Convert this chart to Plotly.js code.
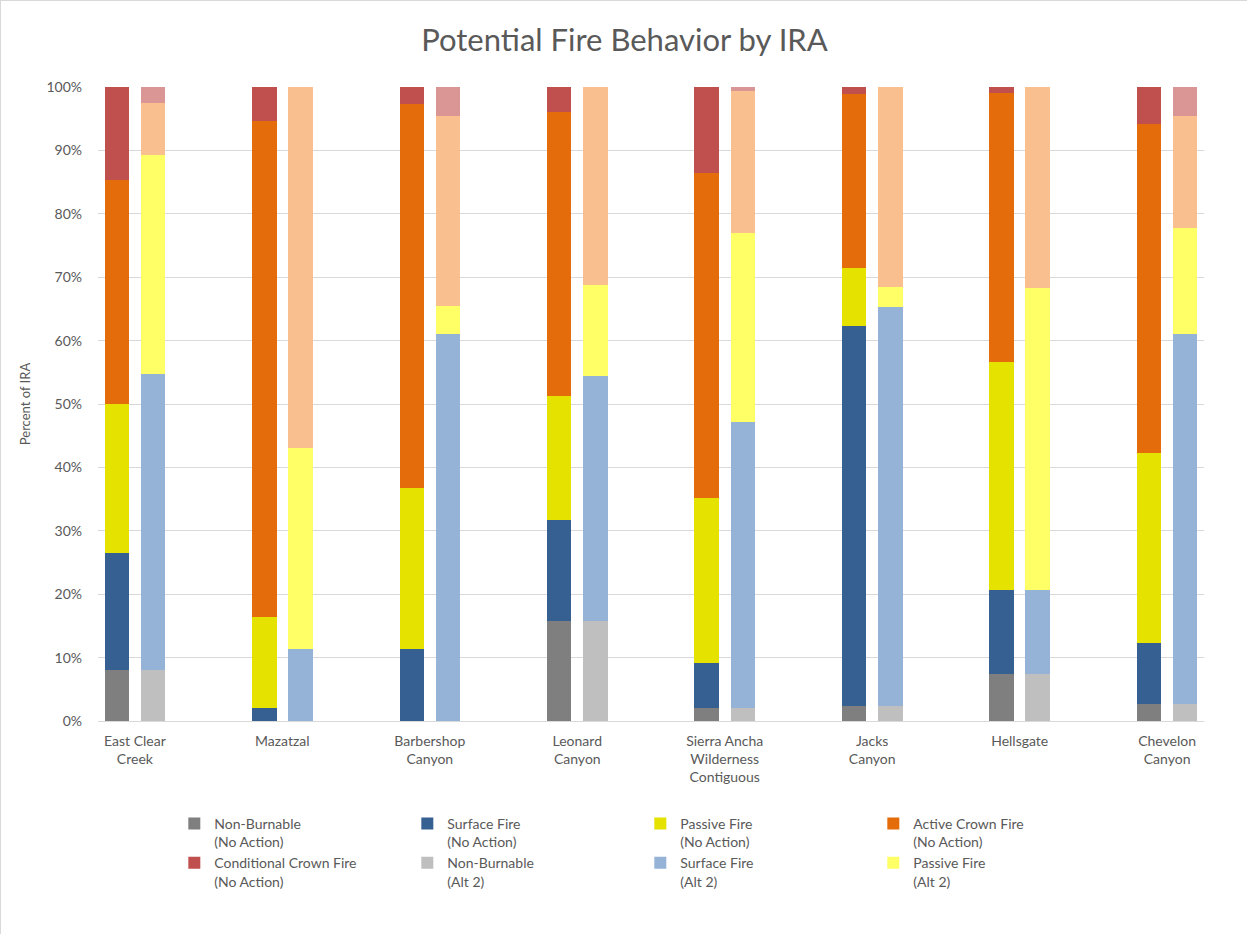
<!DOCTYPE html>
<html>
<head>
<meta charset="utf-8">
<script src="https://cdn.plot.ly/plotly-3.0.1.min.js"></script>
<style>
  html, body { margin: 0; padding: 0; background: #ffffff; }
  #chart { width: 1247px; height: 934px; box-sizing: border-box; border: 1px solid #d9d9d9; }
</style>
</head>
<body>
<div id="chart"></div>
<script>
// ---- Data (percent of IRA) ----
const categories = ["East Clear<br>Creek", "Mazatzal", "Barbershop<br>Canyon", "Leonard<br>Canyon",
  "Sierra Ancha<br>Wilderness<br>Contiguous", "Jacks<br>Canyon", "Hellsgate", "Chevelon<br>Canyon"];

// No Action
const naNonBurnable   = [8.1, 0.0, 0.0, 15.7, 2.0, 2.3, 7.4, 2.7];
const naSurface       = [18.4, 2.0, 11.3, 16.0, 7.2, 60.0, 13.2, 9.6];
const naPassive       = [23.5, 14.4, 25.4, 19.5, 25.9, 9.2, 36.1, 30.0];
const naActive        = [35.3, 78.2, 60.6, 44.9, 51.3, 27.4, 42.4, 51.8];
const naConditional   = [14.7, 5.4, 2.7, 3.9, 13.6, 1.1, 0.9, 5.9];

// Alt 2
const altNonBurnable  = [8.1, 0.0, 0.0, 15.7, 2.0, 2.3, 7.4, 2.7];
const altSurface      = [46.7, 11.3, 61.1, 38.7, 45.2, 63.0, 13.2, 58.4];
const altPassive      = [34.4, 31.8, 4.4, 14.3, 29.8, 3.2, 47.7, 16.7];
const altActive       = [8.2, 56.9, 30.0, 31.3, 22.3, 31.5, 31.7, 17.7];
const altConditional  = [2.6, 0.0, 4.5, 0.0, 0.7, 0.0, 0.0, 4.5];

// ---- Layout helpers ----
const idx = categories.map((c, i) => i);
const OFF = 0.1225, BW = 0.166;
const xNA  = idx.map(i => i - OFF);
const xAlt = idx.map(i => i + OFF);

function bar(name, x, y, color, showlegend) {
  return { type: 'bar', name: name, x: x, y: y, width: BW,
    marker: { color: color, line: { width: 0 } },
    showlegend: showlegend, hoverinfo: 'name+y' };
}

const traces = [
  bar('Non-Burnable<br>(No Action)', xNA, naNonBurnable, '#7f7f7f', true),
  bar('Surface Fire<br>(No Action)', xNA, naSurface, '#376092', true),
  bar('Passive Fire<br>(No Action)', xNA, naPassive, '#e6e200', true),
  bar('Active Crown Fire<br>(No Action)', xNA, naActive, '#e46c0a', true),
  bar('Conditional Crown Fire<br>(No Action)', xNA, naConditional, '#c0504d', true),
  bar('Non-Burnable<br>(Alt 2)', xAlt, altNonBurnable, '#bfbfbf', true),
  bar('Surface Fire<br>(Alt 2)', xAlt, altSurface, '#95b3d7', true),
  bar('Passive Fire<br>(Alt 2)', xAlt, altPassive, '#ffff66', true),
  bar('Active Crown Fire<br>(Alt 2)', xAlt, altActive, '#fabf8f', false),
  bar('Conditional Crown Fire<br>(Alt 2)', xAlt, altConditional, '#d99694', false)
];

const FONT = 'Lato, "Liberation Sans", sans-serif';
const layout = {
  width: 1247, height: 934,
  paper_bgcolor: '#ffffff', plot_bgcolor: '#ffffff',
  barmode: 'stack',
  font: { family: FONT, color: '#595959', size: 13 },
  title: { text: 'Potential Fire Behavior by IRA', x: 0.5, xanchor: 'center', y: 0.958, yanchor: 'middle',
    font: { family: FONT, size: 31, color: '#595959' } },
  margin: { l: 97, r: 44, t: 86, b: 214 },
  xaxis: {
    range: [-0.25, 7.25], tickmode: 'array', tickvals: idx, ticktext: categories,
    showgrid: false, zeroline: false, showline: true, linecolor: '#d9d9d9', linewidth: 1,
    ticks: '', ticklabelstandoff: 7, tickfont: { size: 14, color: '#595959' }, fixedrange: true
  },
  yaxis: {
    range: [0, 100], dtick: 10, ticksuffix: '%', showgrid: true, gridcolor: '#d9d9d9', gridwidth: 1,
    zeroline: false, showline: false, ticks: '', ticklabelstandoff: 15, tickfont: { size: 14, color: '#595959' },
    title: { text: 'Percent of IRA', font: { size: 13, color: '#595959' }, standoff: 12 },
    fixedrange: true
  },
  legend: {
    orientation: 'h', x: 0.069, xanchor: 'left', y: -0.137, yanchor: 'top',
    entrywidth: 188, entrywidthmode: 'pixels', valign: 'top',
    font: { size: 14, color: '#595959' }, traceorder: 'normal', itemclick: false, itemdoubleclick: false
  },
  showlegend: true
};

Plotly.newPlot('chart', traces, layout, { displayModeBar: false, staticPlot: true });
</script>
</body>
</html>
